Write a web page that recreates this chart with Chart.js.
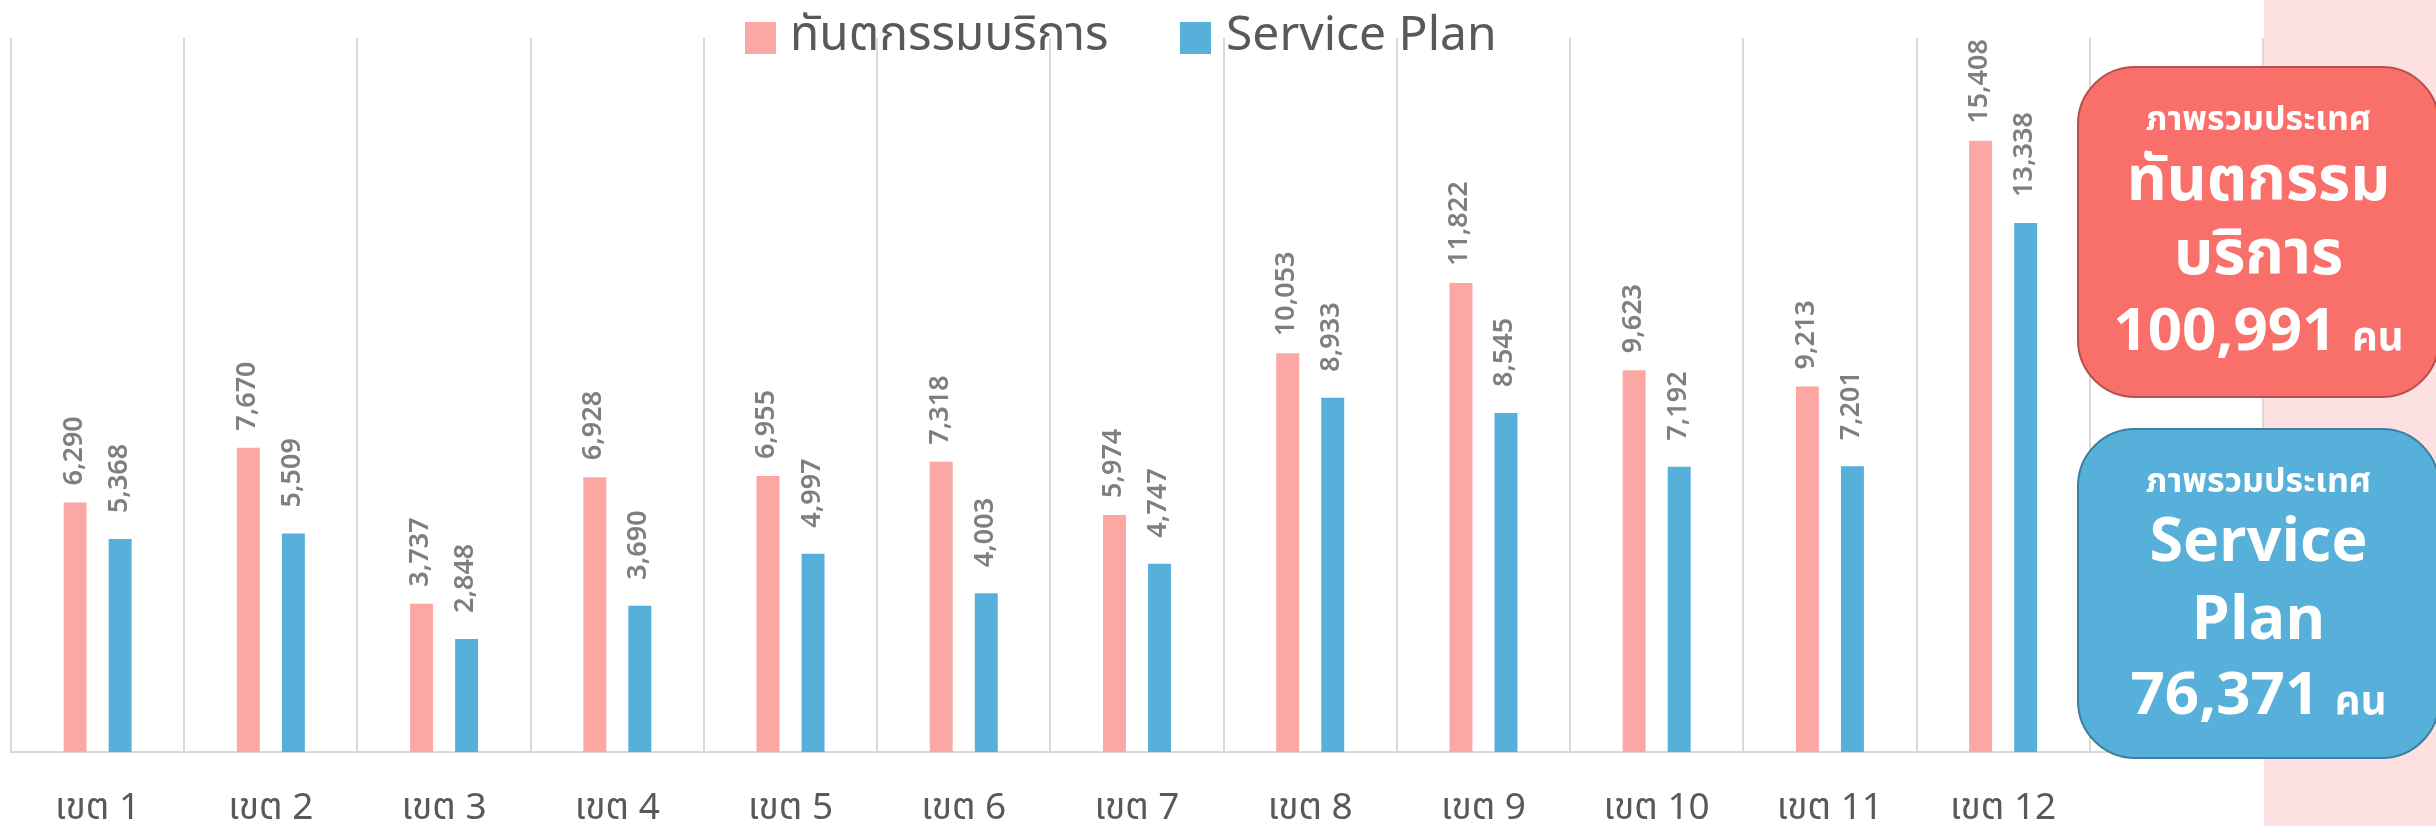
<!DOCTYPE html>
<html>
<head>
<meta charset="utf-8">
<script src="https://cdn.jsdelivr.net/npm/chart.js@4.4.1/dist/chart.umd.min.js"></script>
<style>
  html, body { margin:0; padding:0; background:#fff; }
  body { width:2436px; height:826px; position:relative; overflow:hidden;
         font-family:"Noto Sans Thai","Noto Sans","DejaVu Sans",sans-serif; }
  #bgpink { position:absolute; left:2264px; top:0; width:172px; height:826px; background:#fde1e2; }
  #wrap { position:absolute; left:0; top:0; width:2436px; height:826px; }
  .leg { position:absolute; top:10px; font-size:48px; color:#595959; white-space:nowrap; line-height:52px; }
  .sw { position:absolute; width:31px; height:32px; }
  .box { position:absolute; left:2077px; width:363px; border-radius:58px; color:#fff; text-align:center; box-sizing:border-box; }
  .box div { position:absolute; left:0; width:100%; white-space:nowrap; font-weight:bold; }
  #redbox { top:66px; height:332px; background:#f96f69; border:2px solid #b9504d; }
  #bluebox { top:428px; height:331px; background:#56b0da; border:2px solid #3e7fa0; }
</style>
</head>
<body>
<div id="bgpink"></div>
<div id="wrap"><canvas id="c" width="2436" height="826"></canvas></div>

<div class="sw" style="left:745px; top:22px; background:#fba8a5;"></div>
<div class="leg" style="left:790px;">ทันตกรรมบริการ</div>
<div class="sw" style="left:1180px; top:22px; background:#56b0da;"></div>
<div class="leg" style="left:1226px;">Service Plan</div>

<div id="redbox" class="box">
  <div style="top:26px; font-size:34px;">ภาพรวมประเทศ</div>
  <div style="top:66px; font-size:62px;">ทันตกรรม</div>
  <div style="top:140px; font-size:62px;">บริการ</div>
  <div style="top:218px; font-size:60px;">100,991 <span style="font-size:40px;">คน</span></div>
</div>
<div id="bluebox" class="box">
  <div style="top:26px; font-size:34px;">ภาพรวมประเทศ</div>
  <div style="top:66px; font-size:61px;">Service</div>
  <div style="top:144px; font-size:61px;">Plan</div>
  <div style="top:220px; font-size:60px;">76,371 <span style="font-size:40px;">คน</span></div>
</div>

<script>
const categories = ["เขต 1","เขต 2","เขต 3","เขต 4","เขต 5","เขต 6","เขต 7","เขต 8","เขต 9","เขต 10","เขต 11","เขต 12",""];
const dentalValues = [6290, 7670, 3737, 6928, 6955, 7318, 5974, 10053, 11822, 9623, 9213, 15408, null];
const servicePlanValues = [5368, 5509, 2848, 3690, 4997, 4003, 4747, 8933, 8545, 7192, 7201, 13338, null];
const seriesNames = ["ทันตกรรมบริการ", "Service Plan"];

const FONT = '"Noto Sans Thai","Noto Sans","DejaVu Sans",sans-serif';
const labelOffsets = [17, 26];

const valueLabels = {
  id: 'valueLabels',
  afterDatasetsDraw(chart) {
    const ctx = chart.ctx;
    ctx.save();
    ctx.fillStyle = '#7f7f7f';
    ctx.font = '600 27px ' + FONT;
    chart.data.datasets.forEach((ds, i) => {
      const meta = chart.getDatasetMeta(i);
      meta.data.forEach((bar, j) => {
        const v = ds.data[j];
        if (v == null) return;
        ctx.save();
        ctx.translate(bar.x + 1, bar.y - labelOffsets[i]);
        ctx.rotate(-Math.PI / 2);
        ctx.textAlign = 'left';
        ctx.textBaseline = 'middle';
        ctx.fillText(v.toLocaleString('en-US'), 0, 0);
        ctx.restore();
      });
    });
    ctx.restore();
  }
};

new Chart(document.getElementById('c'), {
  type: 'bar',
  data: {
    labels: categories,
    datasets: [
      { label: seriesNames[0], data: dentalValues, backgroundColor: '#fba8a5',
        categoryPercentage: 0.52, barPercentage: 0.51 },
      { label: seriesNames[1], data: servicePlanValues, backgroundColor: '#56b0da',
        categoryPercentage: 0.52, barPercentage: 0.51 }
    ]
  },
  options: {
    responsive: false,
    animation: false,
    layout: { padding: { left: 11, right: 173, top: 38, bottom: 0 } },
    plugins: { legend: { display: false }, tooltip: { enabled: false } },
    scales: {
      x: {
        grid: { display: true, offset: true, color: '#d9d9d9', lineWidth: 2, drawTicks: false },
        border: { display: true, color: '#d9d9d9', width: 2 },
        ticks: { color: '#595959', font: { size: 37, family: FONT }, padding: 37, maxRotation: 0, autoSkip: false },
        afterFit(s) { s.height = 74; }
      },
      y: {
        display: false,
        min: 0, max: 18000
      }
    }
  },
  plugins: [valueLabels]
});
</script>
</body>
</html>
